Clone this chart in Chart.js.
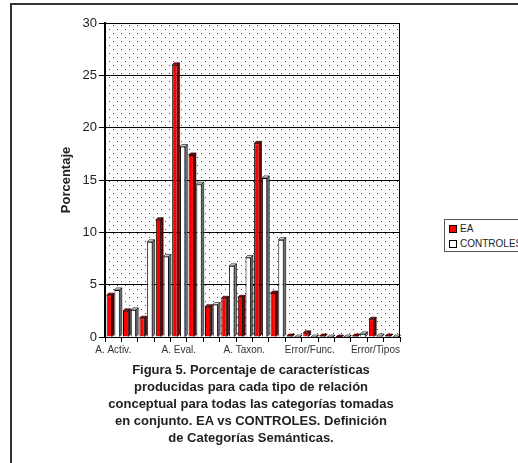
<!DOCTYPE html>
<html>
<head>
<meta charset="utf-8">
<script src="https://cdn.jsdelivr.net/npm/chart.js@4/dist/chart.umd.min.js"></script>
<style>
  body { margin: 0; background: #fff; font-family: "Liberation Sans", Arial, sans-serif; }
  #wrap { position: relative; width: 518px; height: 463px; overflow: hidden; }
  #frame { position: absolute; left: 10px; top: 3px; width: 700px; height: 700px; border: 2px solid #333; }
  #myChart { position: absolute; left: 0; top: 0; }
  #caption { position: absolute; left: 61px; top: 361px; width: 380px; text-align: center;
    font-weight: bold; font-size: 13px; line-height: 17px; color: #222; }
  #legend { position: absolute; left: 444px; top: 219px; width: 120px; height: 31px;
    border: 1px solid #555; font-size: 10px; color: #222; }
  .item { position: absolute; left: 4px; height: 12px; line-height: 12px; white-space: nowrap; }
  .sw { display: inline-block; width: 6px; height: 6px; border: 1px solid #000; margin-right: 3px; vertical-align: -1px; }
</style>
</head>
<body>
<div id="wrap">
  <div id="frame"></div>
  <canvas id="myChart" width="420" height="362"></canvas>
  <div id="caption">Figura 5. Porcentaje de características<br>producidas para cada tipo de relación<br>conceptual para todas las categorías tomadas<br>en conjunto. EA vs CONTROLES. Definición<br>de Categorías Semánticas.</div>
  <div id="legend">
    <div class="item" style="top:3px"><span class="sw" style="background:#ff0000"></span>EA</div>
    <div class="item" style="top:18px"><span class="sw" style="background:#fff"></span>CONTROLES</div>
  </div>
</div>
<script>
// 18 categorias, solo una de cada cuatro lleva etiqueta
let categories = ['A. Activ.', '', '', '', 'A. Eval.', '', '', '', 'A. Taxon.', '', '', '',
  'Error/Func.', '', '', '', 'Error/Tipos', ''];
let ea = [4.0, 2.5, 1.8, 11.2, 26.0, 17.4, 2.9, 3.7, 3.8, 18.5, 4.2, 0.1, 0.4, 0.1, 0, 0.1, 1.7, 0.1];
let controles = [4.5, 2.6, 9.1, 7.7, 18.2, 14.6, 3.1, 6.8, 7.6, 15.2, 9.3, 0, 0, 0, 0, 0.3, 0.1, 0];
let yTicks = [0, 5, 10, 15, 20, 25, 30];

// fondo punteado del area de trazado
let tile = document.createElement('canvas');
tile.width = 8; tile.height = 8;
let tctx = tile.getContext('2d');
tctx.fillStyle = '#444';
tctx.fillRect(1, 1, 1, 1);
tctx.fillRect(5, 5, 1, 1);

let plotBackground = {
  id: 'plotBackground',
  beforeDraw(chart) {
    let { ctx, chartArea: a } = chart;
    ctx.save();
    ctx.fillStyle = '#fff';
    ctx.fillRect(a.left, a.top, a.right - a.left, a.bottom - a.top);
    ctx.fillStyle = ctx.createPattern(tile, 'repeat');
    ctx.fillRect(a.left, a.top, a.right - a.left, a.bottom - a.top);
    ctx.restore();
  },
  afterDraw(chart) {
    let { ctx, chartArea: a } = chart;
    ctx.save();
    ctx.strokeStyle = '#000';
    ctx.lineWidth = 1;
    ctx.strokeRect(a.left + 0.5, a.top + 0.5, a.right - a.left - 1, a.bottom - a.top);
    ctx.restore();
  }
};

// caras laterales y superiores para imitar las barras 3D
let bars3d = {
  id: 'bars3d',
  afterDatasetsDraw(chart) {
    let ctx = chart.ctx;
    let d = 2;
    let faces = [['#b00000', '#700000'], ['#e0e0e0', '#808080']];
    chart.data.datasets.forEach((ds, i) => {
      let meta = chart.getDatasetMeta(i);
      meta.data.forEach((bar) => {
        let p = bar.getProps(['x', 'y', 'base', 'width'], true);
        let l = p.x - p.width / 2, r = p.x + p.width / 2;
        let top = Math.min(p.y, p.base), bot = p.base;
        ctx.save();
        ctx.strokeStyle = '#000';
        ctx.lineWidth = 0.6;
        ctx.fillStyle = faces[i][0];
        ctx.beginPath();
        ctx.moveTo(l, top); ctx.lineTo(l + d, top - d); ctx.lineTo(r + d, top - d); ctx.lineTo(r, top);
        ctx.closePath(); ctx.fill(); ctx.stroke();
        ctx.fillStyle = faces[i][1];
        ctx.beginPath();
        ctx.moveTo(r, top); ctx.lineTo(r + d, top - d); ctx.lineTo(r + d, bot - d); ctx.lineTo(r, bot);
        ctx.closePath(); ctx.fill(); ctx.stroke();
        ctx.restore();
      });
    });
  }
};

let ctx = document.getElementById('myChart').getContext('2d');
let chart = new Chart(ctx, {
  type: 'bar',
  data: {
    labels: categories,
    datasets: [{
      label: 'EA',
      data: ea,
      backgroundColor: '#ff0000',
      borderColor: '#000',
      borderWidth: 1,
      barPercentage: 0.69,
      categoryPercentage: 0.95
    }, {
      label: 'CONTROLES',
      data: controles,
      backgroundColor: '#fff',
      borderColor: '#000',
      borderWidth: 1,
      barPercentage: 0.69,
      categoryPercentage: 0.95
    }]
  },
  options: {
    responsive: false,
    animation: false,
    layout: { padding: { top: 23, right: 20, left: 0, bottom: 0 } },
    plugins: {
      legend: { display: false },
      tooltip: { enabled: false }
    },
    scales: {
      x: {
        afterFit: (axis) => { axis.height = 25; },
        grid: { display: true, drawOnChartArea: false, drawTicks: true, tickLength: 5, color: '#000', offset: true },
        border: { color: '#000', width: 1 },
        ticks: {
          autoSkip: false, maxRotation: 0, minRotation: 0, padding: 2,
          color: '#333',
          font: { family: 'Liberation Sans', size: 10 },
          callback: (v, i) => categories[i]
        }
      },
      y: {
        min: 0,
        max: 30,
        afterFit: (axis) => { axis.width = 105; },
        afterBuildTicks: (axis) => { axis.ticks = yTicks.map(v => ({ value: v })); },
        grid: { color: '#000', lineWidth: 1, tickLength: 6, drawTicks: true },
        border: { color: '#000', width: 2 },
        ticks: {
          padding: 2,
          color: '#222',
          font: { family: 'Liberation Sans', size: 13 }
        },
        title: {
          display: true,
          text: 'Porcentaje',
          color: '#222',
          font: { family: 'Liberation Sans', size: 13, weight: 'bold' },
          padding: { top: 59, bottom: 0 }
        }
      }
    }
  },
  plugins: [plotBackground, bars3d]
});
</script>
</body>
</html>
